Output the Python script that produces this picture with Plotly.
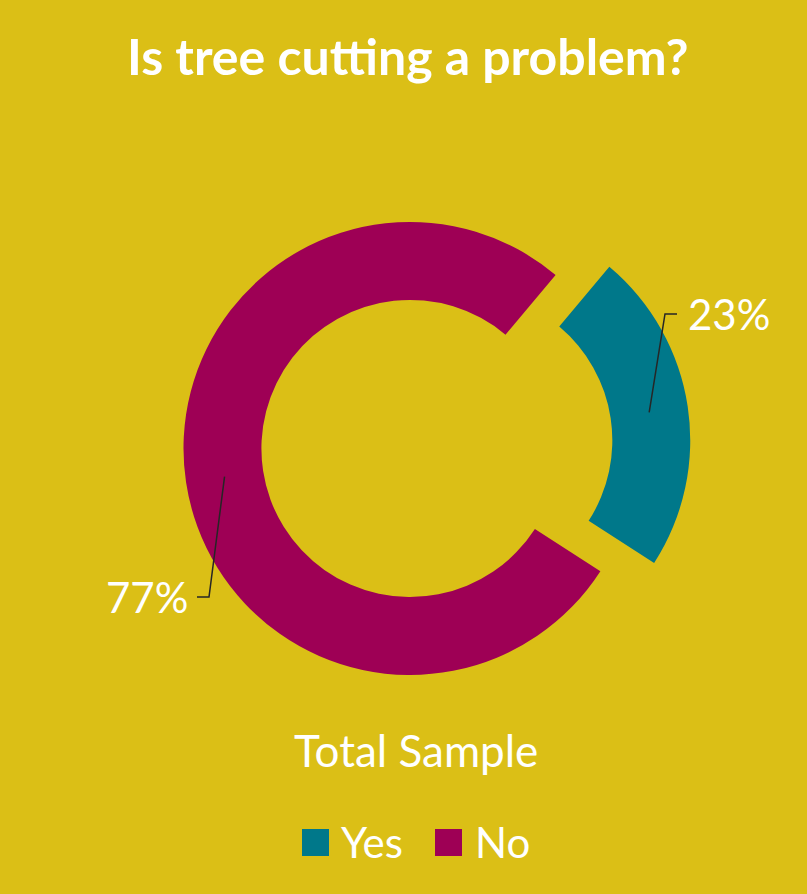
import math
import plotly.graph_objects as go

# ---- data ----
labels = ["Yes", "No"]
values = [23, 77]
colors = ["#00788A", "#9E0055"]
pulls = [0.24, 0.0]
title_text = "Is tree cutting a problem?"
subtitle_text = "Total Sample"

# ---- layout constants (pixels) ----
W, H = 807, 894
BG = "#DBBF16"
FONT = "Lato"
cx, cy = 410.0, 448.5
R_out = 226.5
hole = 0.656
rotation = 40

def px(x):
    return x / W

def py(y):
    return 1 - y / H

half = R_out * (1 + max(pulls))
dom_x = [px(cx - half), px(cx + half)]
dom_y = [py(cy + half), py(cy - half)]

fig = go.Figure(go.Pie(
    labels=labels, values=values, sort=False, direction="clockwise",
    rotation=rotation, hole=hole, pull=pulls,
    marker=dict(colors=colors, line=dict(width=0)),
    textinfo="none", hoverinfo="label+percent", showlegend=False,
    domain=dict(x=dom_x, y=dom_y),
))

shapes = []
annotations = []

# label end points (where the leader line ends) and side
label_end = {"Yes": (677, 314, "right"), "No": (197, 597, "left")}

total = sum(values)
start = rotation
r_mid = R_out * (1 + hole) / 2
for lab, v, p in zip(labels, values, pulls):
    span = v / total * 360
    mid = math.radians(start + span / 2)
    start += span
    ox = cx + p * R_out * math.sin(mid)
    oy = cy - p * R_out * math.cos(mid)
    sx = ox + r_mid * math.sin(mid)
    sy = oy - r_mid * math.cos(mid)
    ex, ey, side = label_end[lab]
    bx = ex - 12 if side == "right" else ex + 12
    shapes.append(dict(
        type="path", xref="paper", yref="paper",
        path=f"M {px(sx)},{py(sy)} L {px(bx)},{py(ey)} L {px(ex)},{py(ey)}",
        line=dict(color="#262626", width=1.5),
    ))
    annotations.append(dict(
        text=f"{round(v / total * 100)}%", xref="paper", yref="paper",
        x=px(ex + 9) if side == "right" else px(ex - 7), y=py(ey),
        xanchor="left" if side == "right" else "right", yanchor="middle",
        showarrow=False, font=dict(family=FONT, size=42, color="white"),
    ))

# title and subtitle
annotations.append(dict(
    text=f"<b>{title_text}</b>", xref="paper", yref="paper", x=px(407), y=py(56),
    xanchor="center", yanchor="middle", showarrow=False,
    font=dict(family=FONT, size=50, color="white"),
))
annotations.append(dict(
    text=subtitle_text, xref="paper", yref="paper", x=px(416), y=py(750),
    xanchor="center", yanchor="middle", showarrow=False,
    font=dict(family=FONT, size=44, color="white"),
))

# legend
legend_sq = {"Yes": 302, "No": 435}
legend_tx = {"Yes": 339, "No": 473}
for lab, col in zip(labels, colors):
    lx = legend_sq[lab]
    shapes.append(dict(
        type="rect", xref="paper", yref="paper",
        x0=px(lx), x1=px(lx + 27), y0=py(856), y1=py(829),
        fillcolor=col, line=dict(width=0),
    ))
    annotations.append(dict(
        text=lab, xref="paper", yref="paper", x=px(legend_tx[lab]), y=py(842),
        xanchor="left", yanchor="middle", showarrow=False,
        font=dict(family=FONT, size=42, color="white"),
    ))

fig.update_layout(
    width=W, height=H, margin=dict(l=0, r=0, t=0, b=0),
    paper_bgcolor=BG, plot_bgcolor=BG,
    shapes=shapes, annotations=annotations,
)

fig.write_html("out.html", config={"displayModeBar": False},
               post_script="document.body.style.margin='0';")
